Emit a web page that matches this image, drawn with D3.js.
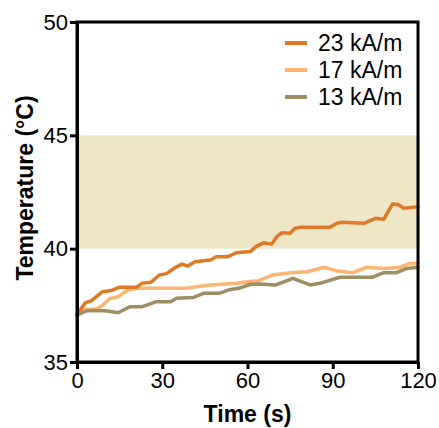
<!DOCTYPE html>
<html>
<head>
<meta charset="utf-8">
<script src="https://cdn.jsdelivr.net/npm/d3@7"></script>
<style>
  body { margin: 0; background: #fff; }
  text { font-family: "Liberation Sans", Arial, sans-serif; }
</style>
</head>
<body>
<div id="chart"></div>
<script>
// series: time (s) and temperature (C)
var t23 = [0, 3, 5, 9, 12, 15, 21, 23, 26, 29, 31.5, 35, 37, 39, 41.5, 47, 49, 53, 56, 61, 63, 65.6, 68.5, 70.3, 72, 75, 76.7, 78.5, 89, 91.4, 93, 101, 105, 108, 111, 113, 115, 120]
var v23 = [37.1, 37.62, 37.7, 38.1, 38.15, 38.3, 38.3, 38.48, 38.52, 38.84, 38.9, 39.2, 39.32, 39.23, 39.42, 39.5, 39.64, 39.64, 39.82, 39.87, 40.09, 40.26, 40.2, 40.53, 40.7, 40.68, 40.9, 40.94, 40.94, 41.12, 41.16, 41.12, 41.34, 41.3, 41.97, 41.95, 41.78, 41.85]

var t17 = [0, 2.8, 7, 9, 11.6, 14.5, 18, 21, 38.6, 42, 47, 56, 61, 64, 69, 75, 81, 87, 91, 97, 102, 108, 113.6, 117, 120]
var v17 = [37.03, 37.3, 37.35, 37.5, 37.8, 37.88, 38.18, 38.25, 38.25, 38.32, 38.4, 38.47, 38.55, 38.59, 38.84, 38.94, 38.98, 39.18, 39.03, 38.94, 39.18, 39.13, 39.18, 39.35, 39.35]

var t13 = [0, 3.4, 10, 14.5, 18.6, 23, 28, 33, 35, 41, 44.5, 50, 54, 57, 61, 64, 70, 76, 82, 85.5, 92.5, 104, 108, 112.5, 116, 120]
var v13 = [37.07, 37.26, 37.26, 37.17, 37.44, 37.44, 37.66, 37.66, 37.81, 37.85, 38.03, 38.03, 38.2, 38.25, 38.43, 38.44, 38.4, 38.69, 38.4, 38.47, 38.74, 38.74, 38.94, 38.94, 39.13, 39.18]

var seriesNames = ['23 kA/m', '17 kA/m', '13 kA/m']
var seriesColors = ['#de7a26', '#fdb472', '#9e8e64']

var xTicks = [0, 30, 60, 90, 120]
var yTicks = [35, 40, 45, 50]
var band = [40, 45]

var margin = {top: 22, right: 21, bottom: 66, left: 77},
  width = 439 - margin.left - margin.right,
  height = 428 - margin.top - margin.bottom;

var svg = d3.select("#chart")
  .append("svg")
    .attr("width", 439)
    .attr("height", 428)
  .append("g")
    .attr("transform", "translate(" + margin.left + "," + margin.top + ")");

var x = d3.scaleLinear().domain([0, 120]).range([0, width])
var y = d3.scaleLinear().domain([35, 50]).range([height, 0])

// shaded hyperthermia band
svg.append("rect")
  .attr("x", 0)
  .attr("width", width)
  .attr("y", y(band[1]))
  .attr("height", y(band[0]) - y(band[1]))
  .attr("fill", "#eee6c7")

var line = d3.line()
  .x(function(d) { return x(d[0]); })
  .y(function(d) { return y(d[1]); })

var all = [d3.zip(t23, v23), d3.zip(t17, v17), d3.zip(t13, v13)]

// draw 17 and 13 first, 23 on top
;[1, 2, 0].forEach(function(i) {
  svg.append("path")
    .datum(all[i])
    .attr("d", line)
    .attr("fill", "none")
    .attr("stroke", seriesColors[i])
    .attr("stroke-width", 3.5)
    .attr("stroke-linejoin", "round")
    .attr("stroke-linecap", "round")
})

// frame
svg.append("rect")
  .attr("width", width)
  .attr("height", height)
  .attr("fill", "none")
  .attr("stroke", "#000")
  .attr("stroke-width", 3)

var yAxis = svg.append("g")
  .call(d3.axisLeft(y).tickValues(yTicks).tickSize(7).tickPadding(2).tickSizeOuter(0))
var xAxis = svg.append("g")
  .attr("transform", "translate(0," + height + ")")
  .call(d3.axisBottom(x).tickValues(xTicks).tickSize(7).tickPadding(3).tickSizeOuter(0))

svg.selectAll(".domain").attr("stroke-width", 3)
svg.selectAll(".tick line").attr("stroke-width", 3)
svg.selectAll(".tick text")
  .attr("font-family", "Liberation Sans, Arial, sans-serif")
  .attr("font-size", 22)
  .attr("fill", "#000")

// axis titles
svg.append("text")
  .attr("x", width / 2)
  .attr("y", height + 60)
  .attr("text-anchor", "middle")
  .attr("font-size", 23)
  .attr("font-weight", "bold")
  .text("Time (s)")

svg.append("text")
  .attr("transform", "translate(" + (33 - margin.left) + "," + (188 - margin.top) + ") rotate(-90)")
  .attr("text-anchor", "middle")
  .attr("font-size", 23)
  .attr("font-weight", "bold")
  .text("Temperature (°C)")

// legend
var legend = svg.append("g").attr("transform", "translate(" + (285 - margin.left) + "," + (43 - margin.top) + ")")
seriesNames.forEach(function(name, i) {
  legend.append("line")
    .attr("x1", 0).attr("x2", 22)
    .attr("y1", i * 27).attr("y2", i * 27)
    .attr("stroke", seriesColors[i])
    .attr("stroke-width", 4)
  legend.append("text")
    .attr("x", 33)
    .attr("y", i * 27)
    .attr("dy", "0.36em")
    .attr("font-size", 23)
    .text(name)
})
</script>
</body>
</html>
